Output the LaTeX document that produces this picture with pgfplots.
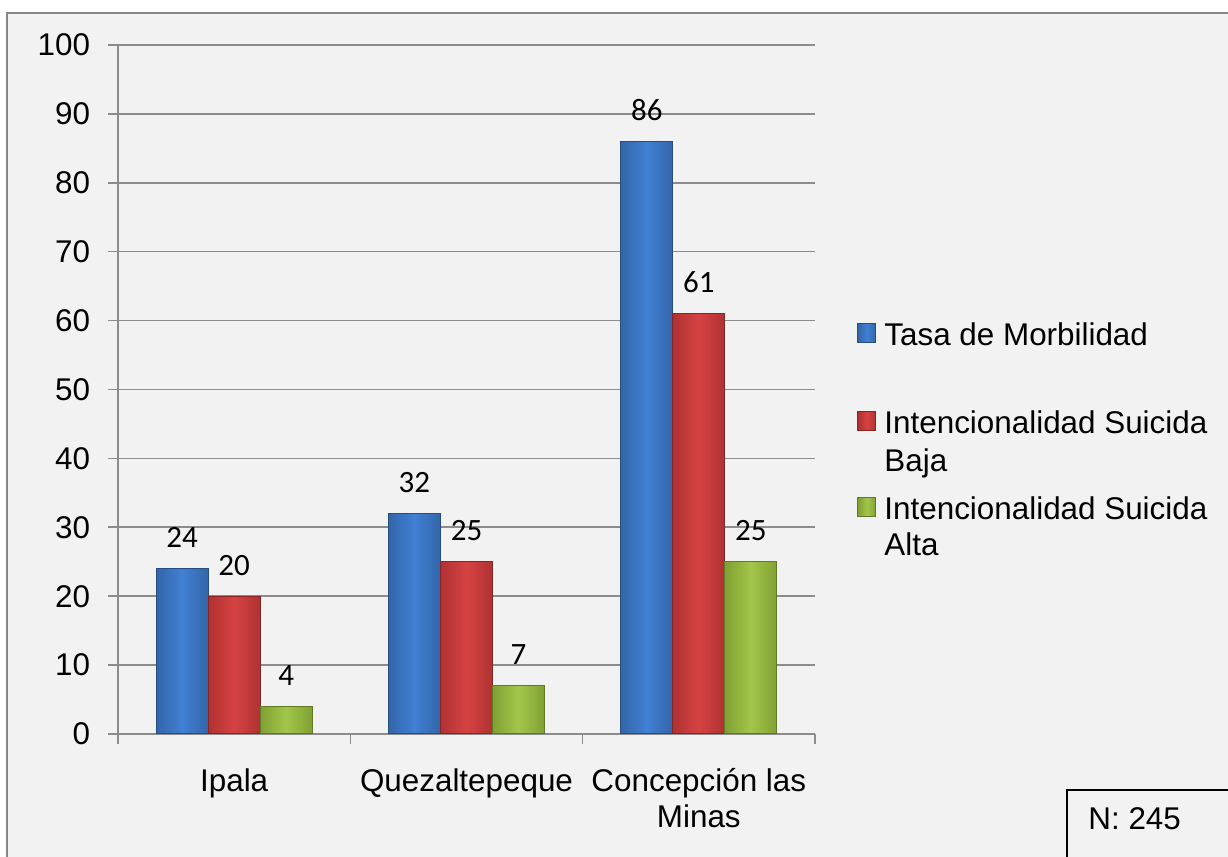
\documentclass[border=0pt]{standalone}
\usepackage{pgfplots}
\pgfplotsset{compat=1.18}
\usepackage{fontspec}
\setmainfont{Liberation Sans}
\newfontfamily\calibri{Carlito}
\definecolor{bg}{HTML}{F2F2F2}
\definecolor{frame}{HTML}{868686}
\definecolor{gridc}{HTML}{8C8C8C}
\definecolor{bluem}{HTML}{4180D3}
\definecolor{bluee}{HTML}{2D5A98}
\definecolor{redm}{HTML}{D74242}
\definecolor{rede}{HTML}{9E2B2B}
\definecolor{grnm}{HTML}{A2C64A}
\definecolor{grne}{HTML}{71902A}
\tikzset{
  tasa/.style={draw=bluee!85!black, line width=0.5pt, left color=bluee!70!bluem, right color=bluee!70!bluem, middle color=bluem},
  baja/.style={draw=rede!85!black, line width=0.5pt, left color=rede!70!redm, right color=rede!70!redm, middle color=redm},
  alta/.style={draw=grne!85!black, line width=0.5pt, left color=grne!70!grnm, right color=grne!70!grnm, middle color=grnm},
}
\pgfplotsset{sqlegend/.style={legend image code/.code={\draw[##1] (0pt,1.5pt) rectangle (9pt,11pt);}}}
\newcommand{\hs}[1]{\rule[-5pt]{0pt}{#1}}
\begin{document}
\fontsize{15.7}{19}\selectfont
\begin{tikzpicture}
\useasboundingbox (0,0) rectangle (614pt,428.5pt);
\fill[white] (0,0) rectangle (614pt,428.5pt);
\fill[bg] (3.5pt,-5pt) rectangle (620pt,422pt);
\draw[frame, line width=1.2pt] (3.5pt,-5pt) -- (3.5pt,422pt) -- (620pt,422pt);
\begin{axis}[
  at={(59pt,61.5pt)}, anchor=south west,
  scale only axis, width=348.5pt, height=344.5pt,
  xmin=-0.5, xmax=2.5, ymin=0, ymax=100,
  ytick={0,10,...,100},
  xtick={0,1,2},
  xticklabels={Ipala,Quezaltepeque,{Concepción las\\Minas}},
  minor xtick={-0.5,0.5,1.5,2.5},
  axis x line*=bottom, axis y line*=left,
  axis line style={gridc, line width=0.8pt, -},
  tick align=outside, major tick length=5pt, minor tick length=5pt,
  tick style={gridc, line width=0.8pt},
  major x tick style={draw=none},
  ymajorgrids, grid style={gridc, line width=0.8pt},
  /pgf/number format/assume math mode=true,
  tick label style={font=\fontsize{15.7}{18}\selectfont},
  y tick label style={xshift=-3.5pt},
  x tick label style={align=center, yshift=-7pt},
  ybar, bar width=0.224,
  nodes near coords,
  nodes near coords style={font=\calibri\fontsize{15.5}{18}\selectfont, anchor=base, inner sep=0pt, yshift=10.5pt},
  legend style={draw=none, fill=none, at={(1.0603,0.6023)}, anchor=north west,
    font=\fontsize{15.7}{19}\selectfont, nodes={inner sep=0pt},
    cells={anchor=base west},
    row sep=0pt, column sep=4pt, inner sep=0pt},
]
% Ipala (carries the legend entries)
\addplot[tasa, bar shift=-0.224, sqlegend] coordinates {(0,24)};
\addlegendentry{\hs{18pt}Tasa de Morbilidad}
\addlegendimage{empty legend}
\addlegendentry{\hs{21.5pt}}
\addplot[baja, bar shift=0, sqlegend] coordinates {(0,20)};
\addlegendentry{\hs{28pt}Intencionalidad Suicida}
\addlegendimage{empty legend}
\addlegendentry{\hs{21.5pt}Baja}
\addplot[alta, bar shift=0.224, sqlegend] coordinates {(0,4)};
\addlegendentry{\hs{26.5pt}Intencionalidad Suicida}
\addlegendimage{empty legend}
\addlegendentry{\hs{21pt}Alta}
% Quezaltepeque
\addplot[tasa, bar shift=-0.224, forget plot] coordinates {(1,32)};
\addplot[baja, bar shift=0, forget plot] coordinates {(1,25)};
\addplot[alta, bar shift=0.224, forget plot] coordinates {(1,7)};
% Concepcion las Minas
\addplot[tasa, bar shift=-0.224, forget plot] coordinates {(2,86)};
\addplot[baja, bar shift=0, forget plot] coordinates {(2,61)};
\addplot[alta, bar shift=0.224, forget plot] coordinates {(2,25)};
\end{axis}
\fill[bg] (533.5pt,-5pt) rectangle (620pt,33.5pt);
\draw[black, line width=1pt] (533.5pt,-5pt) -- (533.5pt,33.5pt) -- (620pt,33.5pt);
\node[anchor=base west, inner sep=0pt] at (544pt,13.5pt) {N: 245};
\end{tikzpicture}
\end{document}
